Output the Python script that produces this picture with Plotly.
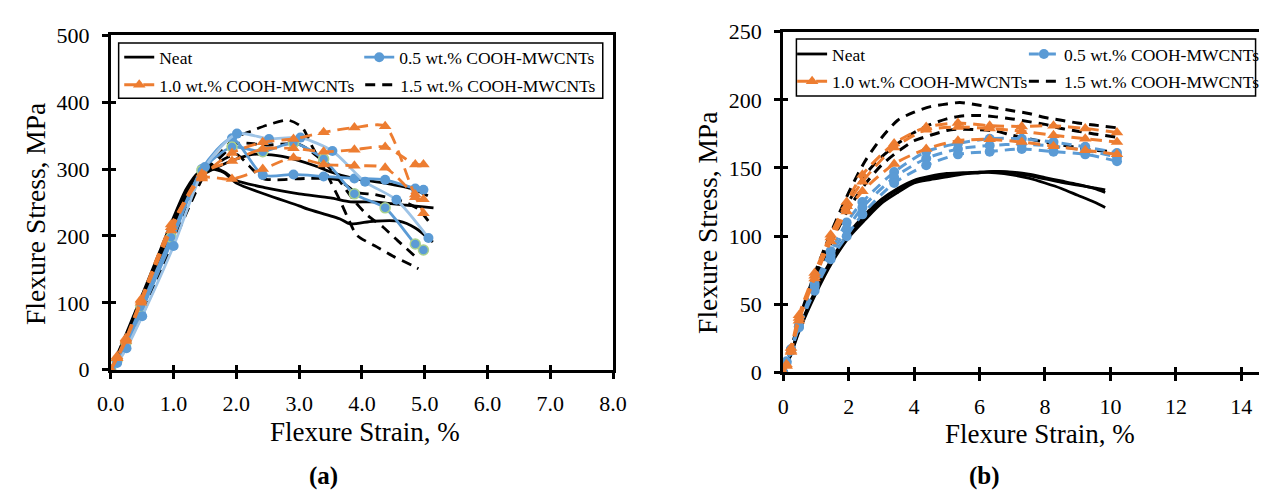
import plotly.graph_objects as go

W, H = 1273, 504
FONT = "Liberation Serif"
BLACK = "#000000"
BLUE = "#5B9BD5"
LIGHTBLUE = "#9DC3E6"
ORANGE = "#ED7D31"
GREEN = "#A9D18E"

# ---------------- Panel (a) data ----------------
a_neat1_x = [0, 0.25, 0.5, 0.75, 1.0, 1.2, 1.4, 1.6, 1.8, 2.0, 2.47, 3.0, 3.5, 3.82, 4.18, 4.7, 5.14]
a_neat1_y = [0, 55, 112, 170, 228, 270, 295, 302, 296, 283, 272, 263, 257, 251, 251, 246, 242]
a_neat2_x = [0, 0.25, 0.5, 0.75, 1.0, 1.2, 1.4, 1.6, 1.8, 2.0, 2.47, 3.0, 3.14, 3.66, 3.81, 4.18, 4.59, 4.85, 5.13]
a_neat2_y = [0, 52, 108, 165, 222, 265, 290, 300, 295, 279, 262, 245, 240, 225, 218, 222, 222, 212, 191]
a_neat3_x = [0, 0.25, 0.5, 0.75, 1.0, 1.2, 1.45, 1.7, 2.0, 2.26, 2.73, 3.25, 3.49, 3.87, 4.37, 4.82, 5.05]
a_neat3_y = [0, 50, 104, 160, 216, 258, 290, 303, 315, 322, 319, 305, 296, 286, 279, 270, 260]

a_b1_x = [0, 0.1, 0.25, 0.5, 1.0, 1.5, 2.01, 2.52, 3.02, 3.53, 4.05, 4.55, 5.06]
a_b1_y = [0, 10, 32, 80, 185, 303, 353, 345, 347, 327, 281, 254, 197]
a_b_x = [0, 0.1, 0.24, 0.48, 0.96, 1.45, 1.93, 2.42, 2.91, 3.39, 3.88, 4.37, 4.85, 4.98]
a_b2_y = [0, 14, 40, 94, 198, 298, 333, 326, 339, 315, 263, 242, 188, 179]
a_b3_y = [0, 12, 36, 86, 190, 300, 346, 291, 292, 289, 286, 284, 271, 269]

a_o_x = [0, 0.1, 0.24, 0.48, 0.96, 1.45, 1.93, 2.42, 2.91, 3.39, 3.88, 4.37, 4.85, 4.98]
a_o1_y = [0, 20, 47, 105, 217, 288, 324, 340, 345, 355, 362, 364, 262, 255]
a_o2_y = [0, 18, 45, 103, 213, 293, 312, 330, 331, 326, 329, 333, 307, 307]
a_o3_y = [0, 17, 43, 100, 208, 286, 285, 300, 317, 307, 305, 302, 258, 234]

a_k1_x = [0, 0.25, 0.5, 0.75, 1.0, 1.25, 1.5, 1.75, 2.0, 2.24, 2.5, 2.83, 3.05, 3.2, 3.4, 3.66, 3.8, 3.92, 4.23, 4.49, 4.8, 4.9]
a_k1_y = [0, 40, 88, 140, 195, 250, 298, 325, 348, 357, 366, 373, 362, 335, 300, 251, 222, 201, 184, 170, 156, 151]
a_k2_x = [0, 0.25, 0.5, 0.75, 1.0, 1.25, 1.5, 1.75, 2.0, 2.5, 3.0, 3.3, 3.5, 3.7, 3.9, 4.1, 4.34, 4.57, 4.9]
a_k2_y = [0, 38, 85, 138, 192, 247, 295, 318, 338, 336, 337, 318, 300, 275, 250, 230, 213, 193, 165]
a_k3_x = [0, 0.25, 0.5, 0.75, 1.0, 1.25, 1.5, 1.75, 2.0, 2.2, 2.42, 2.63, 3.14, 3.61, 3.92, 4.2, 4.67, 4.9, 5.06]
a_k3_y = [0, 36, 82, 135, 190, 244, 292, 312, 322, 305, 286, 284, 286, 284, 265, 262, 251, 240, 222]

a_xticks = [0, 1, 2, 3, 4, 5, 6, 7, 8]
a_yticks = [0, 100, 200, 300, 400, 500]

# ---------------- Panel (b) data ----------------
b_neat_x = [0, 0.1, 0.25, 0.5, 1.0, 1.5, 2.0, 2.5, 3.0, 3.5, 4.0, 4.5, 5.0, 5.5, 6.0, 6.5, 7.0, 7.5, 8.0, 8.5, 9.0, 9.5, 9.84]
b_neat1_y = [0, 5, 15, 32, 60, 83, 101, 114, 126, 134, 140, 143, 145, 146, 147, 147.5, 146.5, 144.5, 142, 139.5, 137.5, 135.5, 134]
b_neat2_y = [0, 5, 14, 31, 58, 81, 99, 112, 124, 132, 139, 141.5, 143.5, 145.5, 146.5, 147.5, 147, 145.5, 143, 140.5, 138, 135, 132]
b_neat3_y = [0, 5, 15, 33, 61, 84, 102, 116, 127, 135, 141, 144, 146, 146.5, 147, 146.5, 145, 142.5, 139, 135, 130, 125, 121]

b_mk_x = [0, 0.1, 0.24, 0.48, 0.96, 1.45, 1.94, 2.42, 3.39, 4.37, 5.34, 6.31, 7.29, 8.26, 9.23, 10.2]
b_b1_y = [0, 8, 17, 34, 65, 89, 110, 125, 147, 162, 168, 171.5, 171.5, 169, 165.5, 161]
b_b2_y = [0, 8, 17, 34, 63, 86, 105, 121, 143, 157, 164, 166.5, 167.5, 166, 163, 158]
b_b3_y = [0, 7, 16, 33, 60, 83, 100, 116, 139, 152, 160, 162, 164, 162, 160, 155]

b_o1_y = [0, 6, 18, 42, 73, 101, 125, 145, 168, 180, 183, 181, 180.5, 181, 179, 176]
b_o2_y = [0, 5, 16, 40, 71, 99, 122, 140, 165, 178, 180, 179, 177, 174, 171.5, 169]
b_o3_y = [0, 5, 15, 38, 69, 96, 118, 133, 153, 164, 170, 171, 169, 166, 163, 160]

b_k_x = [0, 0.25, 0.5, 1.0, 1.5, 2.0, 2.5, 3.0, 3.5, 4.0, 4.5, 5.0, 5.4, 6.0, 6.5, 7.0, 7.5, 8.0, 8.5, 9.0, 9.5, 10.2]
b_k1_y = [0, 18, 40, 75, 105, 132, 155, 172, 185, 191, 195, 197, 198, 196, 194, 192, 190, 187, 185, 183, 181.5, 179.5]
b_k2_y = [0, 16, 38, 72, 100, 125, 145, 158, 168, 176, 182, 186, 188, 188.5, 187.5, 186, 184, 182, 179, 177, 175, 172.5]
b_k3_y = [0, 15, 36, 70, 97, 120, 138, 152, 162, 170, 174, 177.5, 178.5, 178, 177, 174, 171.5, 169, 167, 165, 163, 162]

b_xticks = [0, 2, 4, 6, 8, 10, 12, 14]
b_yticks = [0, 50, 100, 150, 200, 250]

names = ["Neat", "0.5 wt.% COOH-MWCNTs", "1.0 wt.% COOH-MWCNTs", "1.5 wt.% COOH-MWCNTs"]

fig = go.Figure()


def add(x, y, xa, ya, color, width, dash="solid", symbol=None, msize=10,
        mcolor=None, mline=None, name="", legend=None):
    kw = dict(x=x, y=y, xaxis=xa, yaxis=ya, name=name, hoverinfo="skip",
              line=dict(color=color, width=width, dash=dash, shape="spline", smoothing=0.7),
              showlegend=legend is not None)
    if symbol:
        kw["mode"] = "lines+markers"
        kw["marker"] = dict(symbol=symbol, size=msize, color=mcolor,
                            line=dict(color=mline if mline else mcolor, width=1.5 if mline else 0))
    else:
        kw["mode"] = "lines"
    if legend:
        kw["legend"] = legend
    fig.add_trace(go.Scatter(**kw))


DASH_K = "10px,7px"
DASH_O = "12px,7px"

# ---- panel (a) ----
add(a_neat1_x, a_neat1_y, "x", "y", BLACK, 2.8, name=names[0], legend="legend")
add(a_neat2_x, a_neat2_y, "x", "y", BLACK, 2.8)
add(a_neat3_x, a_neat3_y, "x", "y", BLACK, 2.8)
add(a_k1_x, a_k1_y, "x", "y", BLACK, 2.8, DASH_K, name=names[3], legend="legend4")
add(a_k2_x, a_k2_y, "x", "y", BLACK, 2.8, DASH_K)
add(a_k3_x, a_k3_y, "x", "y", BLACK, 2.8, DASH_K)
add(a_b_x, a_b3_y, "x", "y", BLUE, 2.8, "solid", "circle", 10, BLUE, name=names[1], legend="legend2")
add(a_b_x, a_b2_y, "x", "y", BLUE, 2.8, "solid", "circle", 10, BLUE, GREEN)
add(a_b1_x, a_b1_y, "x", "y", LIGHTBLUE, 2.8, "solid", "circle", 10, BLUE)
add(a_o_x, a_o1_y, "x", "y", ORANGE, 2.8, DASH_O, "triangle-up", 11, ORANGE, name=names[2], legend="legend3")
add(a_o_x, a_o2_y, "x", "y", ORANGE, 2.8, DASH_O, "triangle-up", 11, ORANGE)
add(a_o_x, a_o3_y, "x", "y", ORANGE, 2.8, DASH_O, "triangle-up", 11, ORANGE)

# ---- panel (b) ----
add(b_neat_x, b_neat1_y, "x2", "y2", BLACK, 2.8, name=names[0], legend="legend5")
add(b_neat_x, b_neat2_y, "x2", "y2", BLACK, 2.8)
add(b_neat_x, b_neat3_y, "x2", "y2", BLACK, 2.8)
add(b_k_x, b_k1_y, "x2", "y2", BLACK, 3, DASH_K, name=names[3], legend="legend8")
add(b_k_x, b_k2_y, "x2", "y2", BLACK, 3, DASH_K)
add(b_k_x, b_k3_y, "x2", "y2", BLACK, 3, DASH_K)
add(b_mk_x, b_b1_y, "x2", "y2", BLUE, 3, DASH_K, "circle", 10, BLUE, name=names[1], legend="legend6")
add(b_mk_x, b_b2_y, "x2", "y2", BLUE, 3, DASH_K, "circle", 10, BLUE)
add(b_mk_x, b_b3_y, "x2", "y2", BLUE, 3, DASH_K, "circle", 10, BLUE)
add(b_mk_x, b_o1_y, "x2", "y2", ORANGE, 3, DASH_O, "triangle-up", 11, ORANGE, name=names[2], legend="legend7")
add(b_mk_x, b_o2_y, "x2", "y2", ORANGE, 3, DASH_O, "triangle-up", 11, ORANGE)
add(b_mk_x, b_o3_y, "x2", "y2", ORANGE, 3, DASH_O, "triangle-up", 11, ORANGE)

# empty traces so the inside-tick overlay axes render
fig.add_trace(go.Scatter(x=[], y=[], xaxis="x3", yaxis="y3", showlegend=False))
fig.add_trace(go.Scatter(x=[], y=[], xaxis="x4", yaxis="y4", showlegend=False))


def px(v):
    return v / W


def py(v):
    return 1 - v / H


axis_common = dict(showgrid=False, zeroline=False, showline=True, linewidth=3, linecolor=BLACK,
                   ticks="outside", ticklen=6, tickwidth=3, tickcolor=BLACK,
                   tickfont=dict(family=FONT, size=22, color=BLACK))
inside_common = dict(showgrid=False, zeroline=False, showline=False, ticks="inside", ticklen=5,
                     tickwidth=3, tickcolor=BLACK, showticklabels=False)

a_xdom = [px(99), px(612.5)]
a_ydom = [py(376.4), py(24.5)]
b_xdom = [px(786.5), 1.0]
b_ydom = [py(379.3), py(20.7)]
b_xmax = (W - 786.5) / 33.46

fig.update_layout(
    width=W, height=H, autosize=False,
    margin=dict(l=0, r=0, t=0, b=0),
    paper_bgcolor="white", plot_bgcolor="white",
    font=dict(family=FONT, color=BLACK),
    xaxis=dict(domain=a_xdom, range=[0, 8], tickvals=a_xticks, tickformat=".1f", anchor="y",
               mirror=True, ticklabelstandoff=6, **axis_common),
    yaxis=dict(domain=a_ydom, range=[0, 500], tickvals=a_yticks, anchor="x",
               mirror=True, ticklabelstandoff=8, **axis_common),
    xaxis2=dict(domain=b_xdom, range=[0, b_xmax], tickvals=b_xticks, anchor="y2",
                mirror=True, ticklabelstandoff=6, **axis_common),
    yaxis2=dict(domain=b_ydom, range=[0, 250], tickvals=b_yticks, anchor="x2",
                mirror=False, ticklabelstandoff=8, **axis_common),
    xaxis3=dict(overlaying="x", anchor="y", range=[0, 8], tickvals=a_xticks, **inside_common),
    yaxis3=dict(overlaying="y", anchor="x", range=[0, 500], tickvals=a_yticks, **inside_common),
    xaxis4=dict(overlaying="x2", anchor="y2", range=[0, b_xmax], tickvals=b_xticks, **inside_common),
    yaxis4=dict(overlaying="y2", anchor="x2", range=[0, 250], tickvals=b_yticks, **inside_common),
)


def leg(xp, yp):
    return dict(x=px(xp), y=py(yp), xanchor="left", yanchor="middle", orientation="h",
                bgcolor="rgba(0,0,0,0)", borderwidth=0, itemwidth=30,
                font=dict(family=FONT, size=17.5, color=BLACK))


fig.update_layout(
    legend=leg(107.6, 47.7), legend2=leg(353, 47.7),
    legend3=leg(107.6, 76.7), legend4=leg(354, 76.7),
    legend5=leg(795.6, 44.3), legend6=leg(1032.6, 44.3),
    legend7=leg(795.6, 73), legend8=leg(1032.6, 73),
)

# legend frames
fig.add_shape(type="rect", xref="paper", yref="paper", x0=px(107), x1=px(602), y0=py(90.7), y1=py(32.7),
              line=dict(color=BLACK, width=1.5), fillcolor="rgba(0,0,0,0)")
fig.add_shape(type="rect", xref="paper", yref="paper", x0=px(800), x1=px(1269.5), y0=py(88.3), y1=py(28.3),
              line=dict(color=BLACK, width=1.5), fillcolor="rgba(0,0,0,0)")


def ann(text, xp, yp, size, angle=0):
    fig.add_annotation(text=text, xref="paper", yref="paper", x=px(xp), y=py(yp), showarrow=False,
                       xanchor="center", yanchor="middle", textangle=angle,
                       font=dict(family=FONT, size=size, color=BLACK))


ann("Flexure Stress, MPa", 22.5, 212.5, 27.5, -90)
ann("Flexure Strain, %", 359, 442, 27)
ann("Flexure Stress, MPa", 709, 221.5, 27.5, -90)
ann("Flexure Strain, %", 1049, 444, 27)
ann("<b>(a)</b>", 316, 488, 25)
ann("<b>(b)</b>", 992, 488, 25)

fig.write_html("out.html")
